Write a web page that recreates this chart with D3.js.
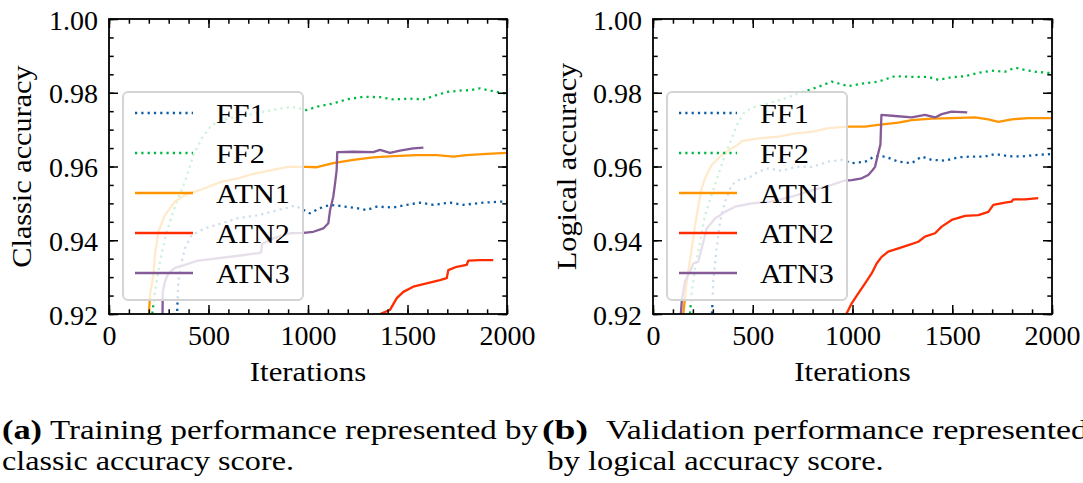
<!doctype html>
<html>
<head>
<meta charset="UTF-8">
<title>Accuracy curves</title>
<script src="https://d3js.org/d3.v7.min.js"></script>
<style>
  body { margin: 0; background: #fff; }
  text { font-family: "Liberation Serif", "Times New Roman", serif; fill: #000; }
</style>
</head>
<body>
<svg id="fig" width="1083" height="483"></svg>
<script>
var iterTicks = [0, 500, 1000, 1500, 2000];
var accTicks = [0.92, 0.94, 0.96, 0.98, 1.00];
var seriesNames = ["FF1", "FF2", "ATN1", "ATN2", "ATN3"];
var seriesColors = ["#0C5DA5", "#00B945", "#FF9500", "#FF2C00", "#845B97"];
var seriesDotted = [true, true, false, false, false];

// training run, classic accuracy  [iteration, accuracy]
var trainFF1 = [[338,0.914],[348,0.9288],[365,0.9342],[382,0.9378],[415,0.9414],[482,0.9432],[566,0.9446],[650,0.946],[750,0.9468],[851,0.9482],[935,0.9494],[960,0.9487],[1010,0.9473],[1060,0.9487],[1111,0.9496],[1161,0.9493],[1245,0.9487],[1295,0.9482],[1345,0.9491],[1429,0.9489],[1496,0.9496],[1563,0.9502],[1630,0.9496],[1714,0.9502],[1780,0.9496],[1881,0.9502],[1981,0.9505],[2000,0.9503]];
var trainFF2 = [[206,0.915],[231,0.926],[256,0.9342],[290,0.9423],[340,0.9505],[382,0.9559],[424,0.9631],[466,0.9676],[516,0.9713],[600,0.9731],[700,0.974],[817,0.9753],[918,0.9762],[993,0.9753],[1044,0.9762],[1127,0.9771],[1194,0.9782],[1278,0.9789],[1362,0.9788],[1429,0.9782],[1513,0.9784],[1580,0.9782],[1630,0.9791],[1697,0.9802],[1764,0.9806],[1814,0.9807],[1864,0.9812],[1915,0.9806],[2000,0.9797]];
var trainATN1 = [[196,0.915],[206,0.9252],[223,0.9306],[231,0.936],[248,0.9423],[281,0.9468],[332,0.9505],[382,0.9523],[432,0.9532],[482,0.9541],[566,0.9559],[650,0.9568],[717,0.9579],[817,0.959],[901,0.9599],[993,0.9599],[1044,0.9598],[1127,0.9609],[1228,0.9618],[1328,0.9625],[1429,0.9628],[1546,0.9631],[1647,0.9631],[1730,0.9627],[1797,0.9631],[1898,0.9634],[2000,0.9637]];
var trainATN2 = [[1360,0.918],[1370,0.9202],[1412,0.9211],[1446,0.9243],[1479,0.926],[1529,0.9274],[1596,0.9283],[1663,0.9292],[1697,0.9297],[1705,0.9319],[1747,0.9328],[1797,0.9333],[1806,0.9345],[1864,0.9346],[1931,0.9346]];
var trainATN3 = [[268,0.915],[270,0.926],[281,0.9288],[298,0.931],[332,0.9325],[382,0.9333],[449,0.9345],[533,0.935],[650,0.9358],[750,0.9365],[765,0.9367],[768,0.939],[826,0.9405],[910,0.9419],[977,0.942],[1027,0.9423],[1077,0.9432],[1102,0.9446],[1111,0.9482],[1127,0.9518],[1136,0.9554],[1144,0.959],[1147,0.9639],[1228,0.964],[1328,0.9639],[1362,0.9645],[1412,0.9637],[1462,0.9643],[1529,0.9649],[1580,0.9651]];

// validation run, logical accuracy
var valFF1 = [[292,0.915],[302,0.9288],[319,0.9378],[336,0.945],[361,0.9505],[394,0.955],[428,0.9563],[478,0.9568],[528,0.9586],[578,0.9595],[645,0.9588],[712,0.9599],[795,0.9599],[879,0.9613],[946,0.9618],[996,0.9609],[1063,0.9613],[1113,0.9628],[1163,0.9627],[1230,0.9613],[1297,0.9609],[1347,0.9627],[1397,0.9618],[1464,0.9616],[1530,0.9625],[1597,0.9627],[1664,0.9627],[1714,0.9634],[1781,0.9628],[1848,0.9627],[1915,0.9631],[2000,0.9634]];
var valFF2 = [[178,0.915],[194,0.926],[211,0.9324],[236,0.9396],[261,0.9468],[294,0.9523],[327,0.9577],[361,0.9631],[394,0.9676],[428,0.9721],[461,0.9749],[511,0.9762],[578,0.9771],[662,0.9785],[745,0.9801],[829,0.9816],[896,0.983],[979,0.9818],[1063,0.9826],[1129,0.983],[1213,0.9845],[1297,0.9843],[1380,0.9843],[1430,0.9835],[1497,0.9842],[1564,0.9845],[1631,0.9854],[1698,0.986],[1764,0.9857],[1815,0.9868],[1865,0.9862],[1915,0.9857],[2000,0.9853]];
var valATN1 = [[142,0.915],[169,0.9288],[194,0.9378],[219,0.9468],[244,0.9541],[261,0.9568],[294,0.9604],[344,0.9631],[394,0.9649],[436,0.9663],[445,0.9669],[528,0.9676],[628,0.9681],[712,0.969],[795,0.9694],[879,0.9704],[979,0.9708],[1063,0.9708],[1129,0.9713],[1230,0.9719],[1297,0.9726],[1397,0.973],[1497,0.9731],[1614,0.9733],[1681,0.9728],[1731,0.9721],[1798,0.9728],[1881,0.9731],[2000,0.9731]];
var valATN2 = [[960,0.918],[971,0.9202],[996,0.9229],[1029,0.9256],[1063,0.9283],[1096,0.931],[1121,0.9337],[1146,0.9355],[1179,0.9369],[1230,0.9378],[1280,0.9387],[1330,0.9396],[1363,0.941],[1414,0.9419],[1447,0.9437],[1497,0.9455],[1564,0.9466],[1631,0.9468],[1681,0.9477],[1706,0.9496],[1764,0.9502],[1798,0.9505],[1806,0.9511],[1865,0.9511],[1931,0.9514]];
var valATN3 = [[133,0.915],[144,0.9233],[160,0.9288],[185,0.9315],[202,0.9337],[227,0.9342],[244,0.9378],[269,0.9432],[311,0.9459],[361,0.9477],[411,0.9491],[495,0.95],[595,0.9505],[695,0.9518],[795,0.9535],[896,0.955],[962,0.9562],[996,0.9563],[1046,0.9568],[1079,0.9577],[1100,0.959],[1113,0.9599],[1129,0.9636],[1140,0.966],[1145,0.974],[1213,0.9737],[1297,0.9733],[1363,0.974],[1414,0.9733],[1447,0.9742],[1497,0.9749],[1575,0.9747]];

var captionTags = ["(a)", "(b)"];
var captionLine1 = ["Training performance represented by", "Validation performance represented"];
var captionLine2 = ["classic accuracy score.", "by logical accuracy score."];

var svg = d3.select("#fig");
var plotTop = 19, plotBottom = 314;
var fontSize = 28;

var panels = [
    { x0: 109, x1: 507, ylabel: "Classic accuracy", labelX: 31,
      series: [trainFF1, trainFF2, trainATN1, trainATN2, trainATN3] },
    { x0: 653, x1: 1052, ylabel: "Logical accuracy", labelX: 575.5,
      series: [valFF1, valFF2, valATN1, valATN2, valATN3] }
];

// make the Times-like font a bit wider, closer to the LaTeX look
function widen(sel, k) {
    sel.each(function () {
        var w = this.getComputedTextLength();
        d3.select(this).attr("textLength", w * k).attr("lengthAdjust", "spacingAndGlyphs");
    });
}

function styleAxis(g) {
    g.select(".domain").remove();
    g.selectAll("line").attr("stroke", "#000").attr("stroke-width", 1.5);
    g.attr("font-size", fontSize).attr("font-family", null);
}

panels.forEach(function (p, i) {
    var x = d3.scaleLinear().domain([0, 2000]).range([p.x0, p.x1]);
    var y = d3.scaleLinear().domain([0.92, 1.00]).range([plotBottom, plotTop]);
    var g = svg.append("g");

    g.append("clipPath").attr("id", "clip" + i)
        .append("rect")
        .attr("x", p.x0).attr("y", plotTop)
        .attr("width", p.x1 - p.x0).attr("height", plotBottom - plotTop);

    var line = d3.line()
        .x(function (d) { return x(d[0]); })
        .y(function (d) { return y(d[1]); });

    g.append("g").attr("clip-path", "url(#clip" + i + ")")
        .selectAll("path")
        .data(p.series)
        .enter().append("path")
        .attr("d", line)
        .attr("fill", "none")
        .attr("stroke", function (d, k) { return seriesColors[k]; })
        .attr("stroke-width", 2.3)
        .attr("stroke-linejoin", "round")
        .attr("stroke-dasharray", function (d, k) { return seriesDotted[k] ? "2.2,4.1" : null; });

    var minorX = d3.range(0, 2001, 100);
    var minorY = d3.range(0, 17).map(function (k) { return 0.92 + k * 0.005; });

    // bottom
    g.append("g").attr("transform", "translate(0," + plotBottom + ")")
        .call(d3.axisBottom(x).tickValues(iterTicks).tickSizeInner(-9).tickSizeOuter(0)
            .tickPadding(11).tickFormat(d3.format("d")))
        .call(styleAxis);
    g.append("g").attr("transform", "translate(0," + plotBottom + ")")
        .call(d3.axisBottom(x).tickValues(minorX).tickSizeInner(-4.7).tickSizeOuter(0).tickFormat(""))
        .call(styleAxis);
    // top
    g.append("g").attr("transform", "translate(0," + plotTop + ")")
        .call(d3.axisTop(x).tickValues(iterTicks).tickSizeInner(-9).tickSizeOuter(0).tickFormat(""))
        .call(styleAxis);
    g.append("g").attr("transform", "translate(0," + plotTop + ")")
        .call(d3.axisTop(x).tickValues(minorX).tickSizeInner(-4.7).tickSizeOuter(0).tickFormat(""))
        .call(styleAxis);
    // left
    g.append("g").attr("transform", "translate(" + p.x0 + ",0)")
        .call(d3.axisLeft(y).tickValues(accTicks).tickSizeInner(-9).tickSizeOuter(0)
            .tickPadding(11).tickFormat(d3.format(".2f")))
        .call(styleAxis)
        .selectAll("text").attr("dy", "0.36em");
    g.append("g").attr("transform", "translate(" + p.x0 + ",0)")
        .call(d3.axisLeft(y).tickValues(minorY).tickSizeInner(-4.7).tickSizeOuter(0).tickFormat(""))
        .call(styleAxis);
    // right
    g.append("g").attr("transform", "translate(" + p.x1 + ",0)")
        .call(d3.axisRight(y).tickValues(accTicks).tickSizeInner(-9).tickSizeOuter(0).tickFormat(""))
        .call(styleAxis);
    g.append("g").attr("transform", "translate(" + p.x1 + ",0)")
        .call(d3.axisRight(y).tickValues(minorY).tickSizeInner(-4.7).tickSizeOuter(0).tickFormat(""))
        .call(styleAxis);

    g.append("rect")
        .attr("x", p.x0).attr("y", plotTop)
        .attr("width", p.x1 - p.x0).attr("height", plotBottom - plotTop)
        .attr("fill", "none").attr("stroke", "#000").attr("stroke-width", 1.8);

    // axis titles
    g.append("text")
        .attr("x", (p.x0 + p.x1) / 2).attr("y", 381)
        .attr("text-anchor", "middle").attr("font-size", fontSize)
        .text("Iterations")
        .call(widen, 1.1);
    g.append("text")
        .attr("transform", "translate(" + p.labelX + "," + (plotTop + plotBottom) / 2 + ") rotate(-90)")
        .attr("text-anchor", "middle").attr("font-size", fontSize)
        .text(p.ylabel)
        .call(widen, 1.08);

    // legend
    var lg = g.append("g");
    lg.append("rect")
        .attr("x", p.x0 + 14).attr("y", 92)
        .attr("width", 180).attr("height", 208).attr("rx", 5)
        .attr("fill", "#fff").attr("fill-opacity", 0.8)
        .attr("stroke", "#d4d4d4").attr("stroke-width", 2);
    var item = lg.selectAll(".item").data(seriesNames).enter().append("g")
        .attr("class", "item")
        .attr("transform", function (d, k) { return "translate(0," + (113 + k * 40) + ")"; });
    item.append("line")
        .attr("x1", p.x0 + 26).attr("x2", p.x0 + 84)
        .attr("stroke", function (d, k) { return seriesColors[k]; })
        .attr("stroke-width", 2.6)
        .attr("stroke-dasharray", function (d, k) { return seriesDotted[k] ? "2.2,4.1" : null; });
    item.append("text")
        .attr("x", p.x0 + 107).attr("y", 10)
        .attr("font-size", fontSize)
        .text(function (d) { return d; })
        .call(widen, 1.08);
});

// captions (justified like the LaTeX subcaptions)
var capX = [[2, 50, 2], [542, 606, 547.6]];
var capW = [[40, 488, 292], [46, 482, 336]];
captionTags.forEach(function (tag, i) {
    svg.append("text").attr("x", capX[i][0]).attr("y", 439)
        .attr("font-size", 27).attr("font-weight", "bold")
        .attr("textLength", capW[i][0]).attr("lengthAdjust", "spacingAndGlyphs")
        .text(tag);
    svg.append("text").attr("x", capX[i][1]).attr("y", 439)
        .attr("font-size", 27)
        .attr("textLength", capW[i][1]).attr("lengthAdjust", "spacingAndGlyphs")
        .text(captionLine1[i]);
    svg.append("text").attr("x", capX[i][2]).attr("y", 470)
        .attr("font-size", 27)
        .attr("textLength", capW[i][2]).attr("lengthAdjust", "spacingAndGlyphs")
        .text(captionLine2[i]);
});
</script>
</body>
</html>
